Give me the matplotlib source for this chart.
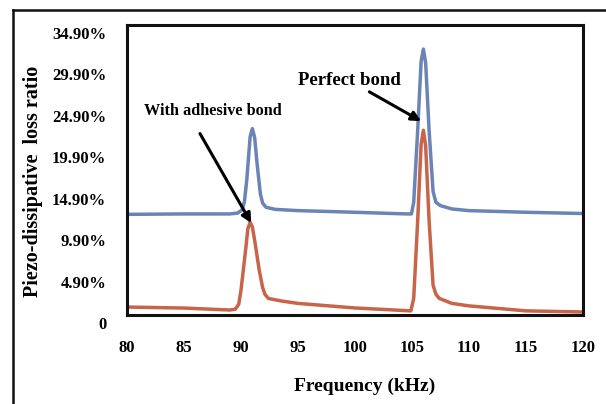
import matplotlib
matplotlib.use('Agg')
import matplotlib.pyplot as plt
import matplotlib.transforms as mtransforms
from matplotlib.lines import Line2D

# perfect bond (blue), values in %
f_perfect = [80, 85, 89, 89.7, 90.1, 90.3, 90.5, 90.8, 91.0, 91.2, 91.4, 91.7, 91.9, 92.2, 93, 95,
             100, 104.5, 104.95, 105.15, 105.5, 105.8, 106.0, 106.2, 106.5, 106.85, 107.1, 107.5,
             108.5, 110, 115, 120]
v_perfect = [12.05, 12.1, 12.1, 12.2, 12.6, 13.6, 16.1, 21.4, 22.4, 21.3, 18.3, 14.5, 13.4, 12.9,
             12.65, 12.5, 12.3, 12.1, 12.1, 13.5, 22.2, 30.5, 32.0, 30.3, 22.2, 14.8, 13.5, 13.1,
             12.7, 12.5, 12.3, 12.15]

# with adhesive bond (red), values in %
f_adhesive = [80, 85, 89, 89.5, 89.8, 90.0, 90.4, 90.6, 90.8, 91.0, 91.2, 91.6, 91.9, 92.1, 92.4,
              93.5, 95, 100, 104.9, 105.15, 105.5, 105.8, 106.0, 106.2, 106.5, 106.85, 107.1,
              107.4, 108.5, 110, 115, 120]
v_adhesive = [0.86, 0.74, 0.5, 0.6, 1.2, 2.9, 7.7, 10.3, 11.1, 10.5, 8.9, 5.3, 3.2, 2.4, 1.9,
              1.6, 1.3, 0.75, 0.4, 1.9, 11.3, 20.5, 22.2, 20.3, 11.3, 3.5, 2.4, 1.9, 1.3, 1.0,
              0.4, 0.26]

yticks = [-0.1, 4.9, 9.9, 14.9, 19.9, 24.9, 29.9, 34.9]
ylabels = ['0', '4.90%', '9.90%', '14.90%', '19.90%', '24.90%', '29.90%', '34.90%']
xticks = [80, 85, 90, 95, 100, 105, 110, 115, 120]

plt.rcParams['font.family'] = 'Liberation Serif'
plt.rcParams['font.weight'] = 'bold'

fig = plt.figure(figsize=(6.06, 4.04), dpi=100)
ax = fig.add_axes([0.2096, 0.2203, 0.7524, 0.7177])

ax.plot(f_perfect, v_perfect, color='#6A84B5', lw=2.5, solid_joinstyle='round')
ax.plot(f_adhesive, v_adhesive, color='#C8644A', lw=2.5, solid_joinstyle='round')

ax.set_xlim(80, 120)
ax.set_ylim(-0.1, 34.9)
ax.set_xticks(xticks)
ax.set_yticks(yticks)
ax.set_yticklabels(ylabels)
ax.tick_params(length=0, labelsize=12)
ax.tick_params(axis='x', pad=18)
ax.tick_params(axis='y', pad=15)
shift = mtransforms.ScaledTranslation(0, -8 / 100, fig.dpi_scale_trans)
for lab in ax.get_yticklabels():
    lab.set_transform(lab.get_transform() + shift)
for sp in ax.spines.values():
    sp.set_linewidth(2.2)
    sp.set_color('#111111')

ax.annotate('Perfect bond', xy=(105.8, 23.3), xytext=(95.0, 28.2),
            fontsize=13.5, fontweight='bold', ha='left', va='center',
            arrowprops=dict(arrowstyle='-|>', color='black', lw=2.2,
                            mutation_scale=14, shrinkA=0, shrinkB=0),
            annotation_clip=False)
ax.text(81.5, 24.5, 'With adhesive bond', fontsize=11.7, fontweight='bold',
        ha='left', va='center')
ax.annotate('', xy=(90.9, 11.0), xytext=(86.4, 21.8),
            arrowprops=dict(arrowstyle='-|>', color='black', lw=2.2,
                            mutation_scale=14, shrinkA=0, shrinkB=0))

fig.text(365 / 606, 1 - 386 / 404, 'Frequency (kHz)', fontsize=14,
         fontweight='bold', ha='center', va='center')
fig.text(33 / 606, 1 - 181 / 404, 'Piezo-dissipative  loss ratio', fontsize=14.5,
         fontweight='bold', ha='center', va='center', rotation=90)

# outer frame
fig.add_artist(Line2D([13 / 606, 1], [1 - 10 / 404, 1 - 10 / 404],
                      transform=fig.transFigure, color='#111111', lw=1.8))
fig.add_artist(Line2D([13 / 606, 13 / 606], [0, 1 - 10 / 404],
                      transform=fig.transFigure, color='#111111', lw=1.8))

fig.savefig('out.png', dpi=100)
